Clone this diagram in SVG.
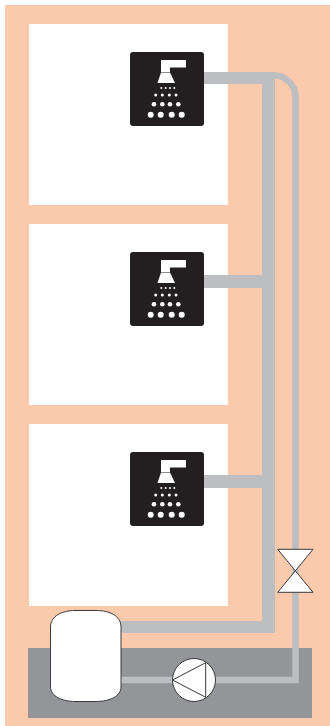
<svg xmlns="http://www.w3.org/2000/svg" width="330" height="726" viewBox="0 0 330 726">
<defs>
<style>
.room{fill:#fff}
.pipe{fill:#bcbec1}
.pipe2{fill:none;stroke:#bcbec1}
.line{fill:#fff;stroke:#3a3a3c;stroke-width:1;stroke-linejoin:miter}
</style>
<g id="shower-icon">
<rect x="0" y="0" width="74" height="74" rx="3" fill="#231f20"/>
<path d="M31 8H56V15.500H40V20H31Z" fill="#fff"/>
<path d="M31 20.500H40L45 31H27.500Z" fill="#fff"/>
<g fill="#fff">
<circle cx="31.300" cy="36" r="1"/><circle cx="35.700" cy="36" r="1"/><circle cx="40" cy="36" r="1"/><circle cx="44.300" cy="36" r="1"/>
<circle cx="25.700" cy="43" r="1.500"/><circle cx="32.300" cy="43" r="1.500"/><circle cx="39.300" cy="43" r="1.500"/><circle cx="46" cy="43" r="1.500"/>
<circle cx="24" cy="52.300" r="2.300"/><circle cx="32.300" cy="52.300" r="2.300"/><circle cx="40" cy="52.300" r="2.300"/><circle cx="48.300" cy="52.300" r="2.300"/>
<circle cx="20.700" cy="62.700" r="3"/><circle cx="30.700" cy="62.700" r="3"/><circle cx="41.700" cy="62.700" r="3"/><circle cx="51.700" cy="62.700" r="3"/>
</g>
</g>
</defs>
<rect x="0" y="0" width="330" height="726" fill="#fff"/>
<rect id="building" x="5" y="5" width="325" height="721" fill="#fbc9ac"/>
<g id="room-1"><rect class="room" x="29" y="24" width="199" height="181"/></g>
<g id="room-2"><rect class="room" x="29" y="224" width="199" height="181"/></g>
<g id="room-3"><rect class="room" x="29" y="424" width="199" height="182"/></g>
<g id="basement"><rect x="28" y="648" width="284" height="70" fill="#939598"/></g>
<g id="connectors">
<path class="pipe2" stroke-width="6.500" d="M120 680H295.500V97A21.500 21.500 0 0 0 274 75.500H204"/>
<path class="pipe" d="M204 72H275V633H120V621H262V488H204V475H262V288H204V275H262V84H204Z"/>
</g>
<g id="shower-1"><use href="#shower-icon" x="130" y="52"/></g>
<g id="shower-2"><use href="#shower-icon" x="130" y="252"/></g>
<g id="shower-3"><use href="#shower-icon" x="130" y="452"/></g>
<g id="tank"><path class="line" d="M50.500 627C50.500 616 62 610.500 75 610.500H96C110 610.500 121 616 121 627V687C121 696 110 701.500 96 701.500H75C62 701.500 50.500 696 50.500 687Z"/></g>
<g id="pump"><circle class="line" cx="194" cy="680" r="21.500"/><path class="line" d="M172.500 680L205.700 662.700V697.300Z"/></g>
<g id="valve"><path class="line" d="M277.700 549.300H313L277.700 592.300H313Z"/></g>
</svg>
